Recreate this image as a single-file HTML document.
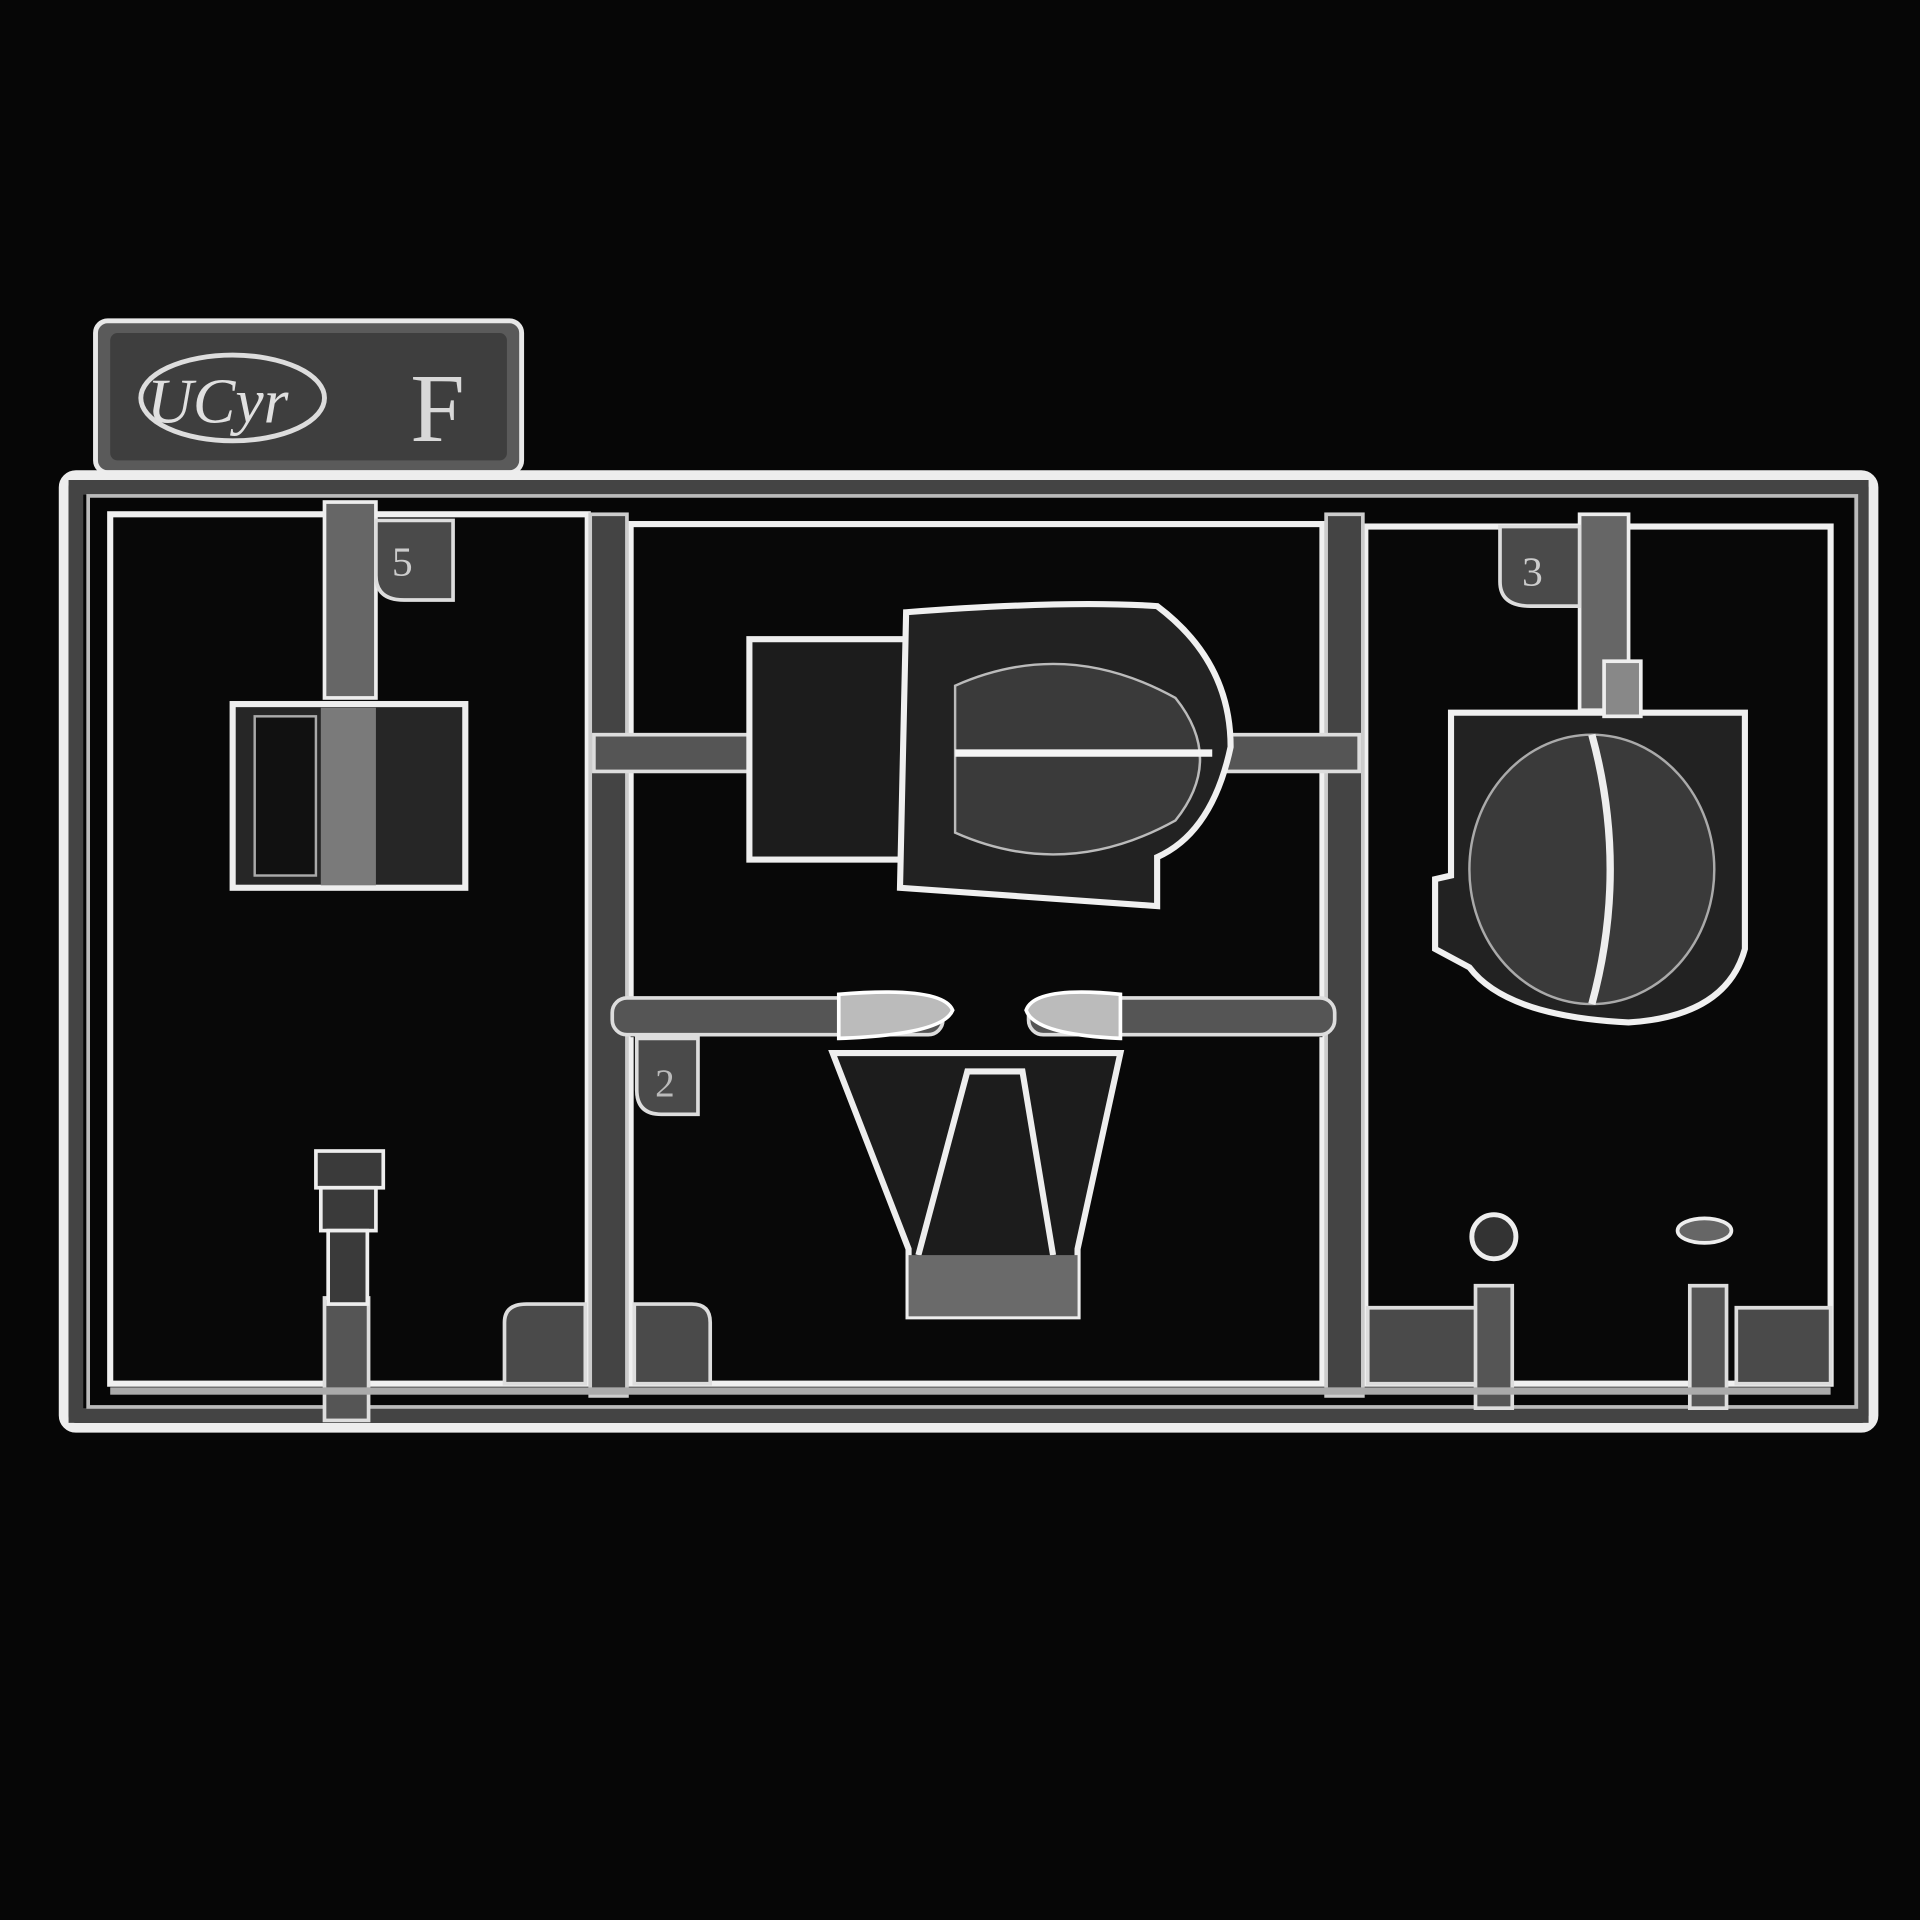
<!DOCTYPE html>
<html><head><meta charset="utf-8"><style>
html,body{margin:0;padding:0;background:#050505;}
svg{display:block;}
text{font-family:"Liberation Serif",serif;}
</style></head><body>
<svg width="1920" height="1920" viewBox="0 0 1568 1568" xmlns="http://www.w3.org/2000/svg">
<rect width="1568" height="1568" fill="#060606"/>
<!-- tag -->
<rect x="78" y="262" width="348" height="124" rx="10" fill="#5a5a5a" stroke="#e8e8e8" stroke-width="4"/>
<rect x="90" y="272" width="324" height="104" rx="6" fill="#3e3e3e"/>
<ellipse cx="190" cy="325" rx="75" ry="35" fill="none" stroke="#ddd" stroke-width="4"/>
<text x="120" y="345" font-size="52" fill="#e0e0e0" font-style="italic">UCyr</text>
<text x="335" y="360" font-size="80" fill="#d8d8d8" font-family="Liberation Sans">F</text>
<!-- outer frame -->
<rect x="52" y="388" width="1478" height="778" rx="10" fill="none" stroke="#ededed" stroke-width="8"/>
<rect x="62" y="398" width="1458" height="758" fill="none" stroke="#444" stroke-width="12"/>
<rect x="72" y="405" width="1444" height="744" fill="none" stroke="#bbb" stroke-width="3"/>
<!-- panels -->
<rect x="90" y="420" width="390" height="710" fill="#080808" stroke="#f0f0f0" stroke-width="5"/>
<rect x="515" y="428" width="565" height="702" fill="#080808" stroke="#f0f0f0" stroke-width="5"/>
<rect x="1115" y="430" width="380" height="700" fill="#080808" stroke="#f0f0f0" stroke-width="5"/>
<!-- vertical runners -->
<rect x="482" y="420" width="30" height="720" fill="#444" stroke="#ccc" stroke-width="3"/>
<rect x="1083" y="420" width="30" height="720" fill="#444" stroke="#ccc" stroke-width="3"/>
<!-- middle horizontal runner -->
<rect x="515" y="815" width="565" height="32" fill="#080808"/>
<rect x="500" y="815" width="270" height="30" rx="12" fill="#555" stroke="#ddd" stroke-width="3"/>
<rect x="840" y="815" width="250" height="30" rx="12" fill="#555" stroke="#ddd" stroke-width="3"/>
<path d="M520 848 H570 V910 H540 Q520 910 520 890Z" fill="#4a4a4a" stroke="#ddd" stroke-width="3"/>
<text x="535" y="895" font-size="32" fill="#bbb">2</text>
<!-- gates -->
<rect x="485" y="600" width="135" height="30" fill="#555" stroke="#ddd" stroke-width="3"/>
<rect x="1000" y="600" width="110" height="30" fill="#555" stroke="#ddd" stroke-width="3"/>
<rect x="265" y="410" width="42" height="160" fill="#666" stroke="#eee" stroke-width="3"/>
<path d="M307 425 H370 V490 H330 Q307 490 307 470Z" fill="#4a4a4a" stroke="#ddd" stroke-width="3"/>
<text x="320" y="470" font-size="34" fill="#ccc">5</text>
<rect x="1290" y="420" width="40" height="160" fill="#666" stroke="#eee" stroke-width="3"/>
<path d="M1225 430 H1290 V495 H1250 Q1225 495 1225 475Z" fill="#4a4a4a" stroke="#ddd" stroke-width="3"/>
<text x="1243" y="478" font-size="34" fill="#ccc">3</text>
<!-- bottom tabs -->
<path d="M412 1130 V1080 Q412 1065 430 1065 H478 V1130Z" fill="#4a4a4a" stroke="#ddd" stroke-width="3"/>
<path d="M518 1130 V1065 H565 Q580 1065 580 1080 V1130Z" fill="#4a4a4a" stroke="#ddd" stroke-width="3"/>
<path d="M1117 1130 V1068 H1210 V1130Z" fill="#4a4a4a" stroke="#ddd" stroke-width="3"/>
<path d="M1418 1130 V1068 H1495 V1130Z" fill="#4a4a4a" stroke="#ddd" stroke-width="3"/>
<rect x="1205" y="1050" width="30" height="100" fill="#555" stroke="#ddd" stroke-width="3"/>
<rect x="1380" y="1050" width="30" height="100" fill="#555" stroke="#ddd" stroke-width="3"/>
<circle cx="1220" cy="1010" r="18" fill="#333" stroke="#eee" stroke-width="4"/>
<ellipse cx="1392" cy="1005" rx="22" ry="10" fill="#666" stroke="#eee" stroke-width="3"/>
<rect x="265" y="1060" width="36" height="100" fill="#555" stroke="#ddd" stroke-width="3"/>
<!-- small left part -->
<g fill="#3a3a3a" stroke="#eee" stroke-width="3">
<rect x="258" y="940" width="55" height="30"/>
<rect x="262" y="970" width="45" height="35"/>
<rect x="268" y="1005" width="32" height="60"/>
</g>
<!-- left cylinder -->
<rect x="190" y="575" width="190" height="150" fill="#262626" stroke="#eee" stroke-width="5"/>
<rect x="262" y="578" width="45" height="145" fill="#7a7a7a"/>
<rect x="208" y="585" width="50" height="130" fill="#111" stroke="#aaa" stroke-width="2"/>
<!-- middle top part -->
<rect x="612" y="522" width="140" height="180" fill="#1c1c1c" stroke="#eee" stroke-width="5"/>
<path d="M740 500 Q870 490 945 495 Q1005 540 1005 610 Q990 680 945 700 L945 740 L735 725 Z" fill="#222" stroke="#f0f0f0" stroke-width="5"/>
<path d="M780 560 Q870 520 960 570 Q1000 620 960 670 Q870 720 780 680 Z" fill="#3a3a3a" stroke="#bbb" stroke-width="2"/>
<path d="M780 615 H990" stroke="#f5f5f5" stroke-width="6"/>
<!-- right part -->
<path d="M1185 582 H1425 V775 Q1410 830 1330 835 Q1230 830 1200 790 L1172 775 V718 L1185 715 Z" fill="#222" stroke="#f0f0f0" stroke-width="5"/>
<ellipse cx="1300" cy="710" rx="100" ry="110" fill="#3a3a3a" stroke="#aaa" stroke-width="2"/>
<path d="M1300 600 Q1330 710 1300 820" stroke="#eee" stroke-width="6" fill="none"/>
<rect x="1310" y="540" width="30" height="45" fill="#888" stroke="#eee" stroke-width="3"/>
<!-- bottom middle part -->
<path d="M680 860 H915 L880 1020 V1075 H742 V1020 Z" fill="#1c1c1c" stroke="#eee" stroke-width="5"/>
<path d="M750 1025 L790 875 H835 L860 1025" fill="none" stroke="#eee" stroke-width="5"/>
<rect x="742" y="1025" width="138" height="50" fill="#6a6a6a"/>
<path d="M685 812 Q770 805 778 825 Q770 845 685 848Z" fill="#bbb" stroke="#fff" stroke-width="3"/>
<path d="M915 812 Q845 805 838 825 Q845 845 915 848Z" fill="#bbb" stroke="#fff" stroke-width="3"/>
<rect x="90" y="1133" width="1405" height="6" fill="#aaa"/>
</svg>
</body></html>
